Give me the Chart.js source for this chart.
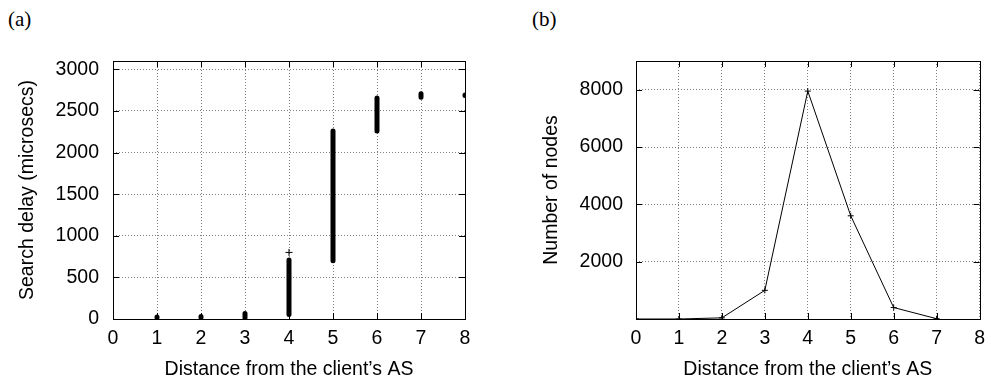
<!DOCTYPE html>
<html>
<head>
<meta charset="utf-8">
<script src="https://cdn.jsdelivr.net/npm/chart.js@4/dist/chart.umd.min.js"></script>
<style>
  body { margin: 0; background: #fff; width: 993px; height: 381px; overflow: hidden; position: relative; }
  .panel { position: absolute; top: 0; height: 381px; }
  .tag { position: absolute; top: 7px; font-family: "Liberation Serif", serif; font-size: 21px; color: #000; }
</style>
</head>
<body>
<div class="tag" style="left:8px">(a)</div>
<div class="tag" style="left:532px">(b)</div>
<div class="panel" style="left:0;width:496px"><canvas id="delayChart" width="496" height="381"></canvas></div>
<div class="panel" style="left:496px;width:497px"><canvas id="nodesChart" width="497" height="381"></canvas></div>
<script>
// (a) search delay per distance : vertical ranges
const distances = [1, 2, 3, 4, 5, 6, 7, 8];
const delayLow = [18, 18, 15, 55, 700, 2260, 2665, 2685];
const delayHigh = [25, 30, 65, 710, 2260, 2655, 2705, 2690];
const outlierX = [4];
const outlierY = [800];

// (b) number of nodes per distance
const nodeDistances = [0, 1, 2, 3, 4, 5, 6, 7];
const nodeCounts = [0, 0, 40, 1000, 7950, 3600, 400, 10];

const xTicks = [0, 1, 2, 3, 4, 5, 6, 7, 8];
const delayTicks = [0, 500, 1000, 1500, 2000, 2500, 3000];
const nodeTicks = [0, 2000, 4000, 6000, 8000];

const FONT = { family: '"Liberation Sans", Arial, sans-serif', size: 19.5 };
Chart.defaults.color = '#000';

// cadre + petites graduations vers l'intérieur (style gnuplot)
const framePlugin = {
    id: 'frame',
    afterDraw(chart) {
        const { ctx, chartArea: a, scales } = chart;
        ctx.save();
        ctx.strokeStyle = '#000';
        ctx.lineWidth = 1;
        ctx.strokeRect(Math.round(a.left) + 0.5, Math.round(a.top) + 0.5,
            Math.round(a.right - a.left), Math.round(a.bottom - a.top));
        ctx.beginPath();
        scales.x.ticks.forEach(t => {
            const px = Math.round(scales.x.getPixelForValue(t.value)) + 0.5;
            ctx.moveTo(px, a.bottom); ctx.lineTo(px, a.bottom - 6);
            ctx.moveTo(px, a.top); ctx.lineTo(px, a.top + 6);
        });
        scales.y.ticks.forEach(t => {
            const py = Math.round(scales.y.getPixelForValue(t.value)) + 0.5;
            ctx.moveTo(a.left, py); ctx.lineTo(a.left + 6, py);
            ctx.moveTo(a.right, py); ctx.lineTo(a.right - 6, py);
        });
        ctx.stroke();
        ctx.restore();
    }
};

function makeOptions(opts) {
    return {
        responsive: false,
        animation: false,
        layout: { autoPadding: false, padding: { top: 61, right: opts.padRight, bottom: 0, left: 0 } },
        plugins: { legend: { display: false }, tooltip: { enabled: false } },
        scales: {
            x: {
                type: 'linear',
                min: 0, max: 8,
                afterFit: s => { s.height = 62; },
                afterBuildTicks: s => { s.ticks = xTicks.map(v => ({ value: v })); },
                border: { display: false, dash: [1, 2] },
                grid: { color: 'rgba(0,0,0,0.5)', lineWidth: 1, drawTicks: false },
                ticks: { font: FONT, padding: 8, maxRotation: 0, autoSkip: false },
                title: { display: true, text: 'Distance from the client\u2019s AS', font: FONT, padding: { top: 0, bottom: 0 } }
            },
            y: {
                type: 'linear',
                min: 0, max: opts.yMax,
                afterFit: s => { s.width = opts.yWidth; },
                afterBuildTicks: s => { s.ticks = opts.yTicks.map(v => ({ value: v })); },
                border: { display: false, dash: [1, 2] },
                grid: { color: 'rgba(0,0,0,0.5)', lineWidth: 1, drawTicks: false },
                ticks: {
                    font: FONT, padding: opts.tickPad,
                    callback: v => (opts.hideZero && v === 0) ? '' : v
                },
                title: { display: true, text: opts.yTitle, font: FONT, padding: { top: opts.titlePad, bottom: 0 } }
            }
        }
    };
}

// données du graphique (a) : segments verticaux séparés par des trous
const rangePoints = [];
distances.forEach((d, i) => {
    rangePoints.push({ x: d, y: delayLow[i] });
    rangePoints.push({ x: d, y: delayHigh[i] });
    rangePoints.push({ x: d, y: null });
});

new Chart(document.getElementById('delayChart'), {
    type: 'scatter',
    data: {
        datasets: [{
            data: rangePoints,
            showLine: true,
            spanGaps: false,
            borderColor: '#000',
            borderWidth: 5,
            borderCapStyle: 'round',
            pointRadius: 0
        }, {
            data: outlierX.map((x, i) => ({ x: x, y: outlierY[i] })),
            pointStyle: 'cross',
            pointRadius: 3.5,
            borderColor: '#000',
            borderWidth: 1
        }]
    },
    options: makeOptions({
        padRight: 31, yMax: 3100, yWidth: 113, yTicks: delayTicks, tickPad: 14,
        yTitle: 'Search delay (microsecs)', titlePad: 16, hideZero: false
    }),
    plugins: [framePlugin]
});

new Chart(document.getElementById('nodesChart'), {
    type: 'line',
    data: {
        datasets: [{
            data: nodeDistances.map((x, i) => ({ x: x, y: nodeCounts[i] })),
            borderColor: '#000',
            borderWidth: 1,
            pointStyle: 'cross',
            pointRadius: 3,
            pointBorderWidth: 1,
            pointBorderColor: '#000',
            tension: 0
        }]
    },
    options: makeOptions({
        padRight: 6, yMax: 9000, yWidth: 140, yTicks: nodeTicks, tickPad: 13,
        yTitle: 'Number of nodes', titlePad: 44, hideZero: true
    }),
    plugins: [framePlugin]
});
</script>
</body>
</html>
